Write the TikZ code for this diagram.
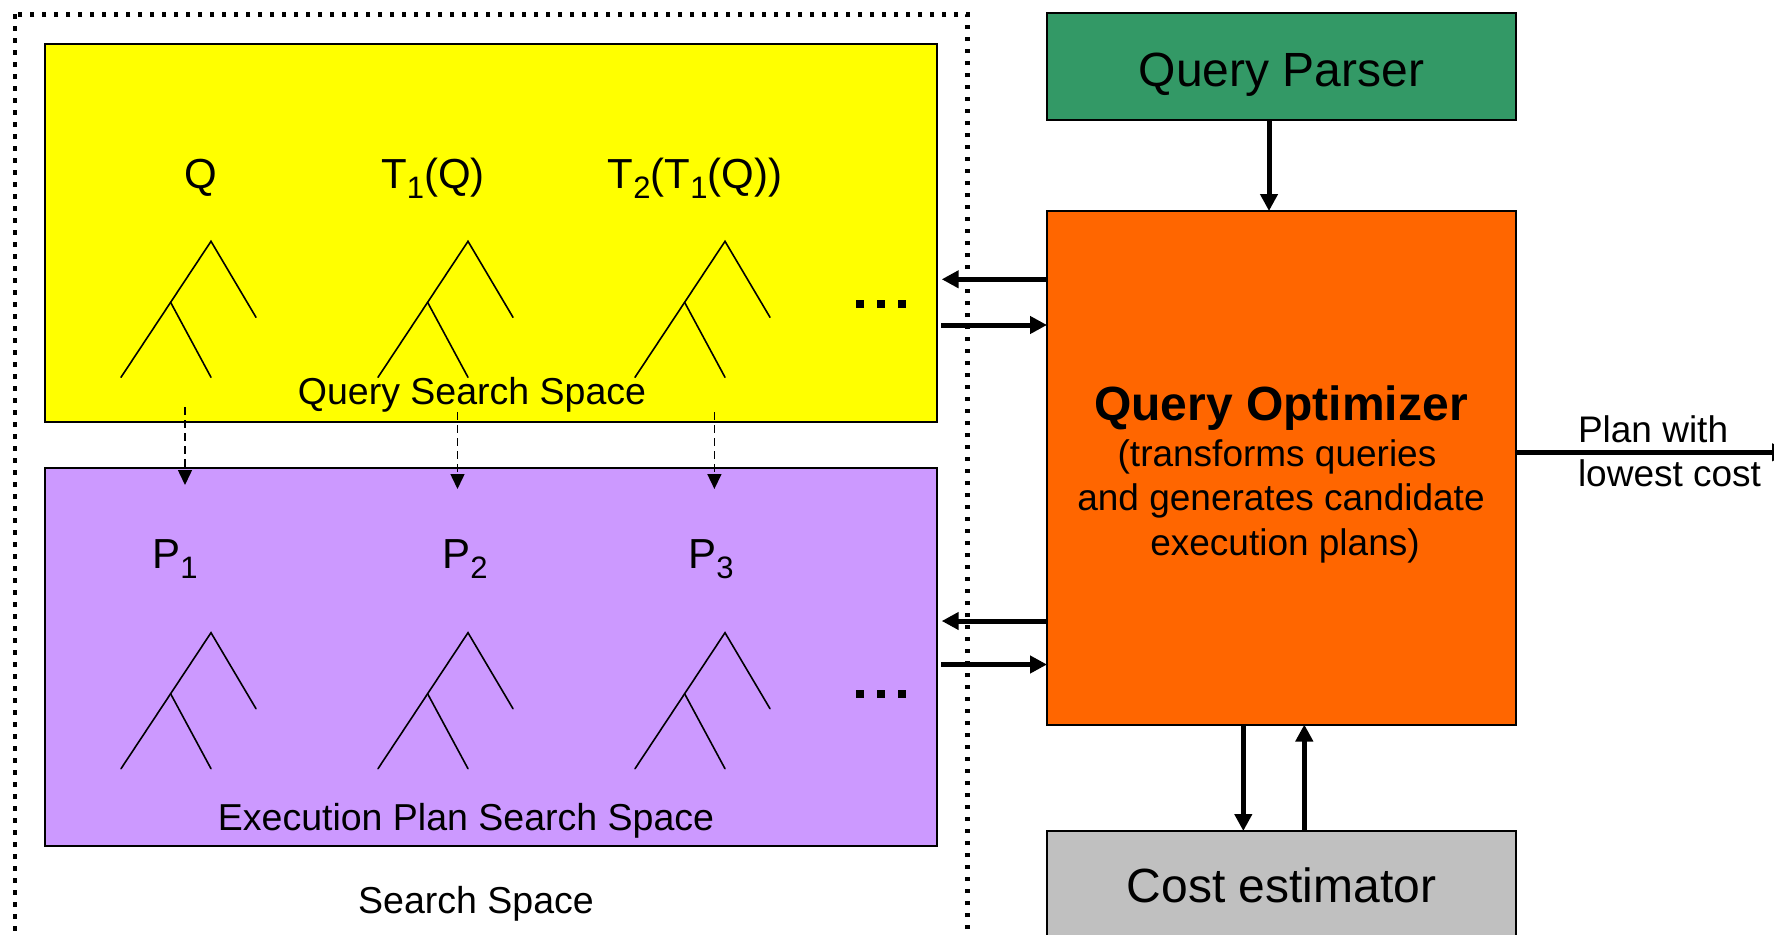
\documentclass[tikz,border=0pt]{standalone}
\usepackage{fontspec}
\setmainfont{Liberation Sans}
\usetikzlibrary{arrows.meta}

\definecolor{qsyellow}{HTML}{FFFF00}
\definecolor{epviolet}{HTML}{CC99FF}
\definecolor{parsergreen}{HTML}{339966}
\definecolor{optorange}{HTML}{FF6600}
\definecolor{estgrey}{HTML}{C0C0C0}

% font size in pt with matching baseline skip
\newcommand{\fsz}[1]{\fontsize{#1}{#1}\selectfont}
% lowered index as used in the tree labels
\newcommand{\lowsub}[1]{\raisebox{-10pt}{\fsz{31}#1}}

\tikzset{
  box/.style={draw=black, line width=2pt, inner sep=0pt, outer sep=0pt, rectangle},
  txt/.style={inner sep=0pt, outer sep=0pt, anchor=base},
  treeline/.style={line width=1.6pt, line cap=round},
  big/.style={line width=5pt, -{Triangle[length=17pt,width=17pt]}},
  dasharrow/.style={line width=1.5pt, dash pattern=on 8pt off 5pt,
                    -{Triangle[length=15pt,width=14pt]}},
  dottedframe/.style={line width=4.5pt, dash pattern=on 4.5pt off 7.5pt},
  tree/.pic={
    \draw[treeline] (-90,136) -- (0,0) -- (45,76);
    \draw[treeline] (-40.4,61) -- (0,136);
  },
  ellip/.pic={
    \fill (-24,-4) rectangle (-16,4);
    \fill (-3,-4) rectangle (5,4);
    \fill (18,-4) rectangle (26,4);
  }
}

\begin{document}
\begin{tikzpicture}[x=1pt,y=-1pt]
  \useasboundingbox (0,0) rectangle (1774,934);
  \fill[white] (0,0) rectangle (1774,934);

  % outer search space frame
  \draw[dottedframe] (15,14.3) rectangle (967.5,937.5);

  % search spaces
  \node[box, fill=qsyellow, minimum width=892pt, minimum height=378pt] (qs) at (491,233) {};
  \node[box, fill=epviolet, minimum width=892pt, minimum height=378pt] (ep) at (491,657) {};

  % optimizer components
  \node[box, fill=parsergreen, minimum width=469pt, minimum height=107pt,
        font=\fsz{48}, text height=40pt, text depth=0pt] (parser) at (1281.5,66.5) {Query Parser};
  \node[box, fill=optorange, minimum width=469pt, minimum height=513.5pt] (opt) at (1281.5,467.75) {};
  \node[box, fill=estgrey, minimum width=469pt, minimum height=108pt,
        font=\fsz{48}, text height=34pt, text depth=0pt] (est) at (1281.5,885) {Cost estimator};

  % optimizer description
  \node[txt, font=\fsz{48}\bfseries] (optt) at (1281,420) {Query Optimizer};
  \node[txt, font=\fsz{37}] (opt1) at (1277,466) {(transforms queries};
  \node[txt, font=\fsz{37}] (opt2) at (1281,510.5) {and generates candidate};
  \node[txt, font=\fsz{37}] (opt3) at (1285,555) {execution plans)};

  % query trees
  \node[txt, font=\fsz{42}] (lq) at (201,188) {Q};
  \node[txt, font=\fsz{42}] (lt1) at (433,188) {T\lowsub{1}(Q)};
  \node[txt, font=\fsz{42}] (lt2) at (695,188) {T\lowsub{2}(T\lowsub{1}(Q))};
  \pic at (211,241.3) {tree};
  \pic at (468,241.3) {tree};
  \pic at (725,241.3) {tree};
  \pic at (880,304) {ellip};
  \node[txt, font=\fsz{37.5}] (qsl) at (472,404) {Query Search Space};

  % execution plans
  \node[txt, font=\fsz{42}] (p1) at (175,568) {P\lowsub{1}};
  \node[txt, font=\fsz{42}] (p2) at (465,568) {P\lowsub{2}};
  \node[txt, font=\fsz{42}] (p3) at (711,568) {P\lowsub{3}};
  \pic at (211,632.7) {tree};
  \pic at (468,632.7) {tree};
  \pic at (725,632.7) {tree};
  \pic at (880,694) {ellip};
  \node[txt, font=\fsz{37.5}] (epl) at (466,830) {Execution Plan Search Space};

  \node[txt, font=\fsz{37.5}] (ssl) at (476,913) {Search Space};

  % query to plan mappings
  \coordinate (qa1) at (185,407);   \coordinate (pa1) at (185,485);
  \coordinate (qa2) at (457.5,412); \coordinate (pa2) at (457.5,489);
  \coordinate (qa3) at (714.4,412); \coordinate (pa3) at (714.4,489);
  \draw[dasharrow] (qa1) -- (pa1);
  \draw[dasharrow] (qa2) -- (pa2);
  \draw[dasharrow] (qa3) -- (pa3);

  % optimizer <-> search spaces
  \coordinate (ya) at (0,279.3);
  \coordinate (yb) at (0,325);
  \coordinate (yc) at (0,621);
  \coordinate (yd) at (0,664.5);
  \draw[big, shorten >=4.7pt] (opt.west |- ya) -- (qs.east |- ya);
  \draw[big, shorten <=4pt] (qs.east |- yb) -- (opt.west |- yb);
  \draw[big, shorten >=4.7pt] (opt.west |- yc) -- (ep.east |- yc);
  \draw[big, shorten <=4pt] (ep.east |- yd) -- (opt.west |- yd);

  % parser, estimator and result
  \coordinate (xin) at (1269,0);
  \coordinate (xdn) at (1243.3,0);
  \coordinate (xup) at (1304.3,0);
  \draw[big] (parser.south -| xin) -- (opt.north -| xin);
  \draw[big] (opt.south -| xdn) -- (est.north -| xdn);
  \draw[big] (est.north -| xup) -- (opt.south -| xup);

  \coordinate (outend) at (1789,452.3);
  \draw[big] (opt.east |- outend) -- (outend);
  \node[txt, anchor=base west, font=\fsz{37}] (res1) at (1578,442) {Plan with};
  \node[txt, anchor=base west, font=\fsz{37}] (res2) at (1578,486.6) {lowest cost};
\end{tikzpicture}
\end{document}
